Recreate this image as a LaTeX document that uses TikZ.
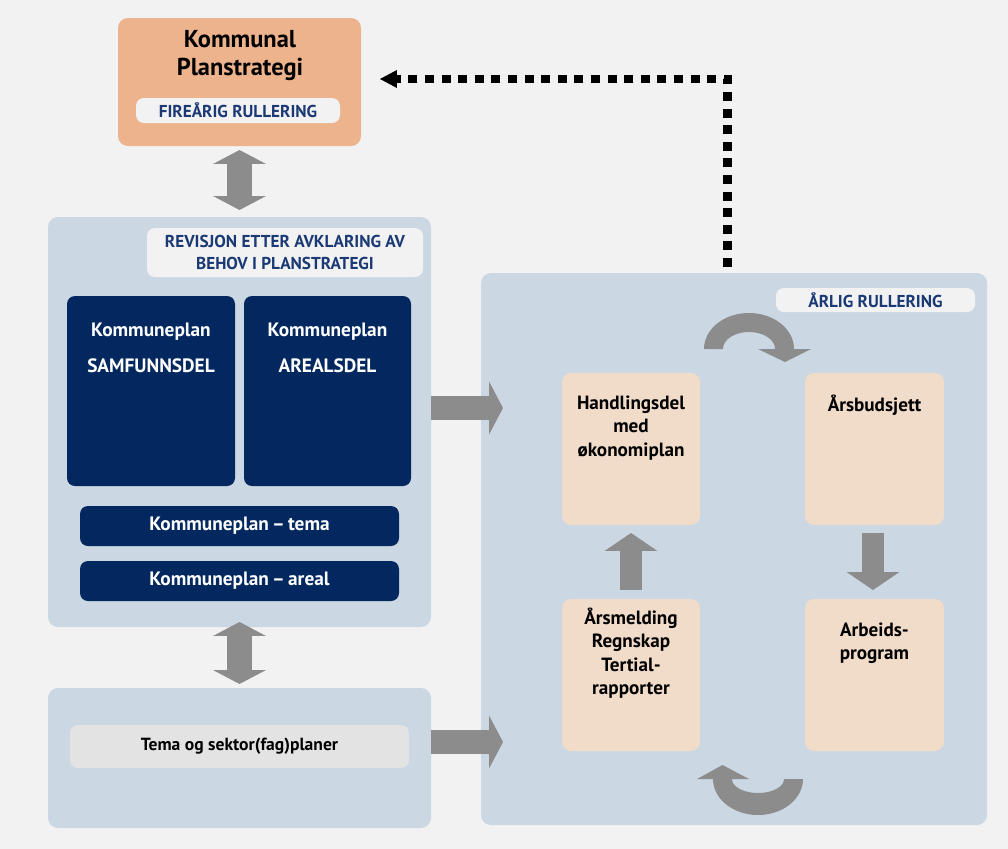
\documentclass[tikz,border=0pt]{standalone}
\usepackage{fontspec}
\setmainfont{PT Sans}
\usetikzlibrary{arrows.meta,calc,fit}
\definecolor{bg}{HTML}{F2F2F2}
\definecolor{orng}{HTML}{EDB38D}
\definecolor{panel}{HTML}{CBD7E3}
\definecolor{navy}{HTML}{03285F}
\definecolor{peach}{HTML}{F1DBC9}
\definecolor{agray}{HTML}{8C8C8C}
\definecolor{lbl}{HTML}{1B3A75}
\definecolor{pill}{HTML}{F2F2F2}
\definecolor{lgray}{HTML}{E3E3E3}
\begin{document}
\begin{tikzpicture}[x=0.02cm,y=-0.02cm,
  box/.style={inner sep=0pt, outer sep=0pt, rounded corners=0.2cm},
  pillbox/.style={box, fill=pill, rounded corners=0.16cm},
  pilltxt/.style={text=lbl, font=\bfseries\fontsize{9.8}{12.5}\selectfont, align=center, inner sep=0pt},
  navybox/.style={box, fill=navy, rounded corners=0.16cm},
  peachbox/.style={box, fill=peach, rounded corners=0.18cm},
  whitetxt/.style={text=white, font=\bfseries\fontsize{11}{12}\selectfont, align=center, inner sep=0pt},
  blacktxt/.style={text=black, font=\bfseries\fontsize{10.9}{13.3}\selectfont, align=center, inner sep=0pt},
  dblarrow/.style={draw=agray, line width=14.2pt, {Triangle[width=30pt,length=7.9pt,line width=0pt]}-{Triangle[width=30pt,length=7.9pt,line width=0pt]}},
  rarrow/.style={draw=agray, line width=13.6pt, -{Triangle[width=30pt,length=7.9pt,line width=0pt]}},
  varrow/.style={draw=agray, line width=13pt, -{Triangle[width=30pt,length=10.2pt,line width=0pt]}},
  dotline/.style={draw=black, line width=5.1pt, dash pattern=on 5.1pt off 4.35pt, -{Triangle[width=10.2pt,length=9.6pt,line width=0pt]}}
]
\fill[bg] (0,0) rectangle (1008,849);
\useasboundingbox (0,0) rectangle (1008,849);

% top box
\node[box, fill=orng, fit={(118,18)(361,146)}] (ps) {};
\node[text=black, font=\bfseries\fontsize{13.9}{15.9}\selectfont, align=center, inner sep=0pt] (pst) at (240,56) {Kommunal\\Planstrategi};
\node[pillbox, fit={(136,98)(340,123)}] (psp) {};
\node[pilltxt] (pspt) at (psp.center) {FIREÅRIG RULLERING};

% left panel
\node[box, fill=panel, fit={(48,217)(431,627)}] (lp) {};
\node[pillbox, fit={(147,228)(423,277)}] (lpl) {};
\node[pilltxt] (lplt) at (lpl.center) {REVISJON ETTER AVKLARING AV\\BEHOV I PLANSTRATEGI};
\node[navybox, fit={(67,296)(235,486)}] (samf) {};
\node[whitetxt] (samft) at (151,348) {Kommuneplan\\[8.4pt]SAMFUNNSDEL};
\node[navybox, fit={(244,296)(411,486)}] (areal) {};
\node[whitetxt] (arealt) at (327.5,348) {Kommuneplan\\[8.4pt]AREALSDEL};
\node[navybox, fit={(80,506)(399,546)}] (tema) {};
\node[whitetxt] (temat) at (tema.center) {Kommuneplan\,–\,tema};
\node[navybox, fit={(80,561)(399,601)}] (arealbar) {};
\node[whitetxt] (arealbart) at (arealbar.center) {Kommuneplan\,–\,areal};

% bottom left panel
\node[box, fill=panel, fit={(48,688)(431,828)}] (bp) {};
\node[box, fill=lgray, rounded corners=0.16cm, fit={(70,725)(409,768)}] (sek) {};
\node[text=black, font=\bfseries\fontsize{10}{12}\selectfont, inner sep=0pt] (sekt) at (sek.center) {Tema og sektor(fag)planer};

% right panel
\node[box, fill=panel, fit={(481,273)(987,825)}] (rp) {};
\node[pillbox, fit={(776,288)(975,312)}] (rpl) {};
\node[pilltxt] (rplt) at (rpl.center) {ÅRLIG RULLERING};

\node[peachbox, fit={(562,373)(700,525)}] (A) {};
\node[blacktxt] (At) at (631,428) {Handlingsdel\\med\\økonomiplan};
\node[peachbox, fit={(805,373)(944,525)}] (B) {};
\node[blacktxt] (Bt) at (874.5,405) {Årsbudsjett};
\node[peachbox, fit={(805,599)(944,751)}] (C) {};
\node[blacktxt] (Ct) at (874.5,643.5) {Arbeids-\\program};
\node[peachbox, fit={(562,599)(700,751)}] (D) {};
\node[blacktxt] (Dt) at (631,653) {Årsmelding\\Regnskap\\Tertial-\\rapporter};

% connectors
\draw[dblarrow] ($(ps.south)+(0,4)$) -- ($(lp.north)+(0,-7)$);
\draw[dblarrow] ($(lp.south)+(0,-5)$) -- ($(bp.north)+(0,-4)$);
\coordinate (r1) at (503,408);
\coordinate (r2) at (503,742);
\draw[rarrow] (lp.east |- r1) -- (r1);
\draw[rarrow] (bp.east |- r2) -- (r2);
\draw[varrow] ($(B.south)+(-1.5,8)$) -- ($(C.north)+(-1.5,-9)$);
\draw[varrow] ($(D.north)+(0,-9)$) -- ($(A.south)+(0,8)$);

% dotted feedback
\coordinate (d0) at (727.5,267);
\coordinate (d1) at (727.5,79);
\coordinate (d2) at (380,79);
\draw[dotline] (d0) -- (d1) -- (d2);

% curved arrows
\fill[agray] plot[domain=180:0, samples=40] ({749+45*cos(\x)}, {349-36*sin(\x)})
  -- (811,349) -- (785,362) -- (758,349) -- (775,349)
  -- plot[domain=0:180, samples=40] ({749+26*cos(\x)}, {349-17*sin(\x)}) -- cycle;
\fill[agray] plot[domain=0:180, samples=40] ({758+45*cos(\x)}, {779+36*sin(\x)})
  -- (697,779) -- (722.5,765) -- (749,779) -- (732,779)
  -- plot[domain=180:0, samples=40] ({758+26*cos(\x)}, {779+14*sin(\x)}) -- cycle;
\end{tikzpicture}
\end{document}
